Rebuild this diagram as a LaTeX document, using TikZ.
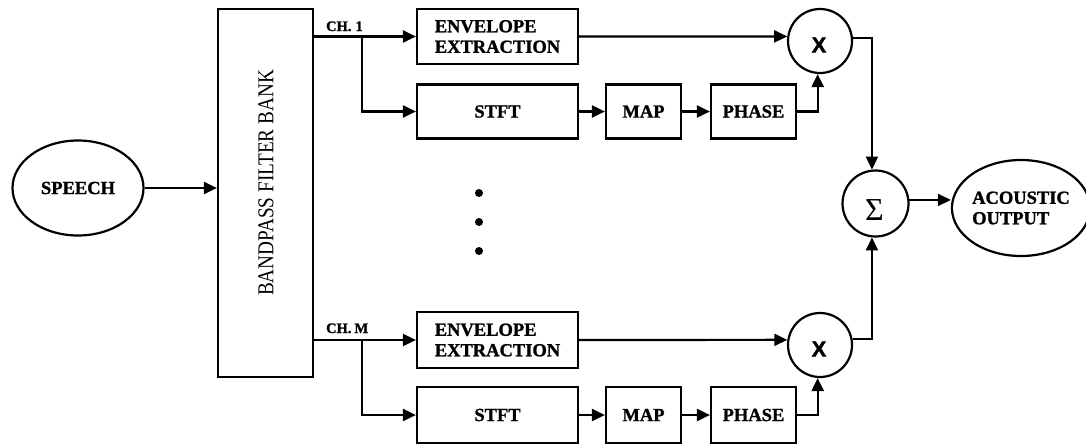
\documentclass[tikz,border=0pt]{standalone}
\usepackage{fontspec}
\setmainfont{Liberation Serif}[BoldFeatures={FakeBold=1.2}]
\newfontfamily\xfont{Liberation Sans}[BoldFeatures={FakeBold=1.5}]
\usetikzlibrary{arrows.meta,calc,shapes.geometric}
\begin{document}
\begin{tikzpicture}[x=1pt,y=-1pt,
  line width=2.2pt,
  >={Triangle[length=13pt,width=12pt]},
  txt/.style={font=\fontsize{18.5}{20.5}\selectfont\bfseries},
  blk/.style={draw, rectangle, inner sep=0pt, txt},
  ell/.style={draw, ellipse, inner sep=0pt, txt},
  opc/.style={draw, circle, inner sep=0pt, minimum size=64pt},
  chl/.style={anchor=base west, inner sep=0pt, font=\fontsize{14.5}{14.5}\selectfont\bfseries},
  dot/.style={fill, circle, inner sep=0pt, minimum size=8pt}
]
\useasboundingbox (0,0) rectangle (1086,445);

% input and filter bank
\node[ell, minimum width=131pt, minimum height=95pt] (sp) at (78,188) {SPEECH};
\node[draw, rectangle, inner sep=0pt, minimum width=95pt, minimum height=368pt] (bank) at (265.5,193) {};
\node[rotate=90, inner sep=0pt] (banklbl) at (266,183)
  {\scalebox{1}[1.18]{\fontsize{19.2}{19.2}\selectfont BANDPASS FILTER BANK}};

% channel 1
\node[blk, minimum width=161pt, minimum height=55pt, align=left] (env1) at (497.5,36.5) {ENVELOPE\\EXTRACTION};
\node[blk, minimum width=161pt, minimum height=54pt] (stft1) at (497.5,111.5) {STFT};
\node[blk, minimum width=75pt, minimum height=54pt] (map1) at (643.5,111.5) {MAP};
\node[blk, minimum width=85pt, minimum height=54pt] (phase1) at (753.5,111.5) {PHASE};
\node[opc] (x1) at (820,41) {};
\node[font=\xfont\fontsize{22}{22}\selectfont\bfseries, inner sep=0pt] (x1lbl) at (819,45) {X};
\node[chl] (ch1) at (325,31) {CH.\hspace{4pt}1};

% channel M
\node[blk, minimum width=161pt, minimum height=56pt, align=left] (env2) at (497.5,340) {ENVELOPE\\EXTRACTION};
\node[blk, minimum width=161pt, minimum height=56pt] (stft2) at (497.5,415) {STFT};
\node[blk, minimum width=75pt, minimum height=56pt] (map2) at (643.5,415) {MAP};
\node[blk, minimum width=85pt, minimum height=56pt] (phase2) at (753.5,415) {PHASE};
\node[opc] (x2) at (820,345) {};
\node[font=\xfont\fontsize{22}{22}\selectfont\bfseries, inner sep=0pt] (x2lbl) at (819,349) {X};
\node[chl] (chm) at (325,333) {CH.\hspace{3pt}M};

% dots
\node[dot] (d1) at (479,193) {};
\node[dot] (d2) at (479,222) {};
\node[dot] (d3) at (479,251) {};

% summation and output
\node[draw, circle, inner sep=0pt, minimum size=66pt] (sig) at (875.5,203.5) {};
\node[inner sep=0pt, font=\fontsize{32}{32}\selectfont] (siglbl) at (874.5,210) {Σ};
\node[ell, minimum width=128pt, minimum height=96pt, align=left] (out) at (1021,208) {ACOUSTIC\\OUTPUT};

% connectors
\draw[->] (sp.east) -- (sp.east -| bank.west);
\coordinate (b1) at (362,36.5);
\coordinate (b2) at (362,340);
\draw[->] (bank.east |- env1.west) -- (env1.west);
\draw[->] (b1) |- (stft1.west);
\draw[->] (stft1) -- (map1);
\draw[->] (map1) -- (phase1);
\draw[->] (env1.east) -- (x1.172);
\draw[->] (phase1.east) -| (x1.266);
\draw[->] (x1.5) -| (sig.96);

\draw[->] (bank.east |- env2.west) -- (env2.west);
\draw[->] (b2) |- (stft2.west);
\draw[->] (stft2) -- (map2);
\draw[->] (map2) -- (phase2);
\draw[->] (env2.east) -- (x2.171);
\draw[->] (phase2.east) -| (x2.266);
\draw[->] (x2.11) -| (sig.264);

\draw[->] (sig.6) -- (sig.6 -| out.west);
\end{tikzpicture}
\end{document}
